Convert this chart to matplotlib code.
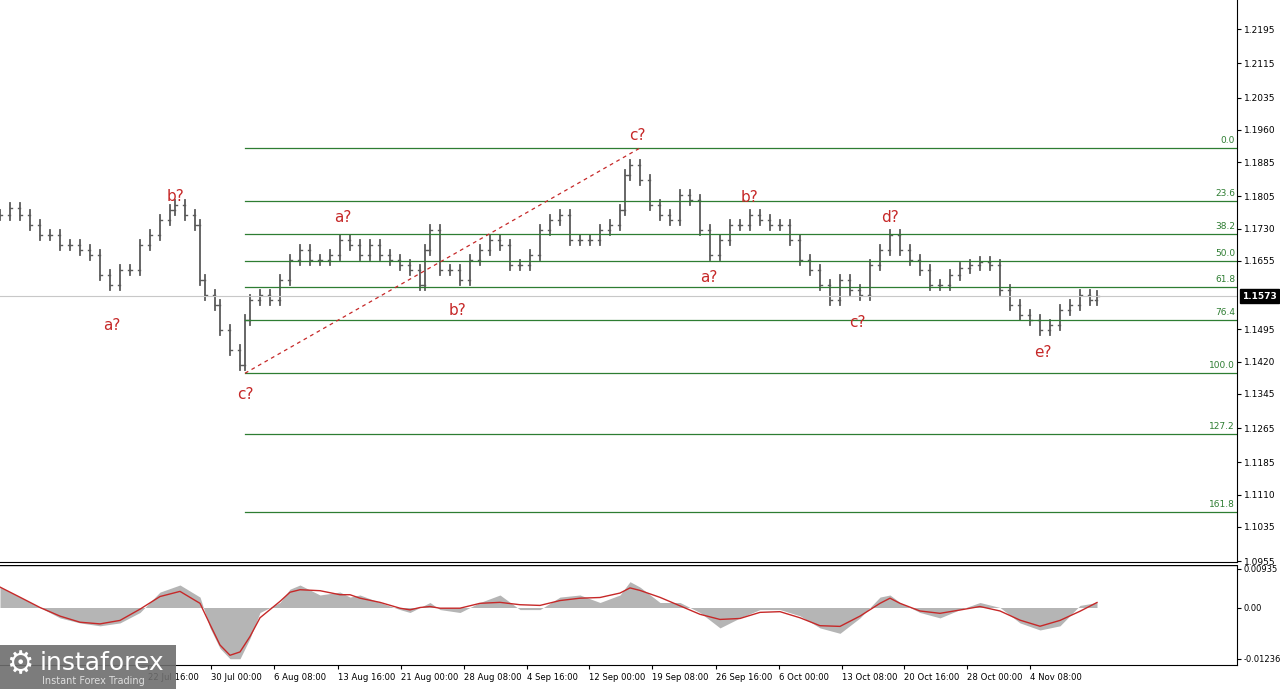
import numpy as np
import matplotlib.pyplot as plt
from matplotlib.patches import Rectangle

# bar times (chart x units) and closes
xs = [0, 10, 20, 30, 40, 50, 60, 70, 80, 90, 100, 110, 120, 130, 140, 150, 160, 170, 175, 185,
      195, 200, 205, 215, 220, 230, 240, 245, 250, 260, 270, 280, 290, 300, 310, 320, 330, 340, 350, 360,
      370, 380, 390, 400, 410, 420, 425, 430, 440, 450, 460, 470, 480, 490, 500, 510, 520, 530, 540, 550,
      560, 570, 580, 590, 600, 610, 620, 625, 630, 640, 650, 660, 670, 680, 690, 700, 710, 720, 730, 740,
      750, 760, 770, 780, 790, 800, 810, 820, 830, 840, 850, 860, 870, 880, 890, 900, 910, 920, 930, 940,
      950, 960, 970, 980, 990, 1000, 1010, 1020, 1030, 1040, 1050, 1060, 1070, 1080, 1090, 1097]
closes = [1.1762, 1.1778, 1.1762, 1.1738, 1.1715, 1.1715, 1.1692, 1.1692, 1.1680, 1.1668, 1.1622, 1.1598,
          1.1633, 1.1633, 1.1692, 1.1715, 1.1750, 1.1773, 1.1785, 1.1762, 1.1738, 1.1610, 1.1575, 1.1552,
          1.1493, 1.1447, 1.1412, 1.1517, 1.1563, 1.1575, 1.1563, 1.1610, 1.1657, 1.1680, 1.1657, 1.1657,
          1.1668, 1.1703, 1.1692, 1.1668, 1.1692, 1.1668, 1.1657, 1.1645, 1.1633, 1.1598, 1.1680, 1.1727,
          1.1633, 1.1633, 1.1610, 1.1657, 1.1680, 1.1703, 1.1692, 1.1645, 1.1645, 1.1668, 1.1727, 1.1750,
          1.1762, 1.1703, 1.1703, 1.1703, 1.1727, 1.1738, 1.1773, 1.1855, 1.1878, 1.1843, 1.1785, 1.1762,
          1.1750, 1.1808, 1.1797, 1.1727, 1.1668, 1.1703, 1.1738, 1.1738, 1.1762, 1.1750, 1.1738, 1.1738,
          1.1703, 1.1657, 1.1633, 1.1598, 1.1563, 1.1610, 1.1587, 1.1575, 1.1645, 1.1680, 1.1715, 1.1680,
          1.1657, 1.1633, 1.1598, 1.1598, 1.1622, 1.1638, 1.1645, 1.1652, 1.1645, 1.1587, 1.1552, 1.1528,
          1.1517, 1.1493, 1.1505, 1.1540, 1.1552, 1.1575, 1.1563, 1.1573]

osc_x = [0, 20, 40, 60, 80, 100, 120, 140, 160, 180, 200, 210, 220, 230, 240, 250, 260, 280, 290, 300,
         320, 340, 350, 360, 380, 400, 410, 420, 430, 440, 460, 480, 500, 520, 540, 560, 580, 600, 620, 630,
         640, 660, 680, 700, 720, 740, 760, 780, 800, 820, 840, 860, 880, 890, 900, 920, 940, 960, 980, 1000,
         1020, 1040, 1060, 1080, 1097]
osc = [0.0049, 0.0025, 0.0000, -0.0025, -0.0037, -0.0044, -0.0037, -0.0012, 0.0037, 0.0054, 0.0025,
       -0.0049, -0.0098, -0.0123, -0.0123, -0.0074, -0.0012, 0.0012, 0.0044, 0.0054, 0.0030, 0.0037,
       0.0025, 0.0030, 0.0012, -0.0005, -0.0012, 0.0000, 0.0012, -0.0005, -0.0012, 0.0012, 0.0030,
       -0.0005, -0.0005, 0.0025, 0.0030, 0.0012, 0.0030, 0.0062, 0.0049, 0.0012, 0.0012, -0.0012,
       -0.0049, -0.0025, -0.0005, -0.0005, -0.0020, -0.0049, -0.0062, -0.0025, 0.0025, 0.0030, 0.0012,
       -0.0012, -0.0025, -0.0005, 0.0012, 0.0000, -0.0037, -0.0054, -0.0044, 0.0005, 0.0012]

fib_levels = [0.0, 23.6, 38.2, 50.0, 61.8, 76.4, 100.0, 127.2, 161.8]
fib_top, fib_bottom = 1.1918, 1.1393
price_ticks = [1.2195, 1.2115, 1.2035, 1.1960, 1.1885, 1.1805, 1.1730, 1.1655, 1.1495,
               1.1420, 1.1345, 1.1265, 1.1185, 1.1110, 1.1035, 1.0955]
date_labels = ['22 Jul 16:00', '30 Jul 00:00', '6 Aug 08:00', '13 Aug 16:00', '21 Aug 00:00',
               '28 Aug 08:00', '4 Sep 16:00', '12 Sep 00:00', '19 Sep 08:00', '26 Sep 16:00',
               '6 Oct 00:00', '13 Oct 08:00', '20 Oct 16:00', '28 Oct 00:00', '4 Nov 08:00']
date_pos = [148, 211, 274, 338, 401, 464, 527, 589, 652, 716, 779, 842, 904, 967, 1030]
waves = [('a?', 112, 1.1505), ('b?', 175, 1.1805), ('c?', 245, 1.1343), ('a?', 343, 1.1757),
         ('b?', 457, 1.1540), ('c?', 637, 1.1948), ('a?', 709, 1.1615), ('b?', 750, 1.1803),
         ('c?', 857, 1.1512), ('d?', 890, 1.1757), ('e?', 1043, 1.1441)]
last_price = 1.1573

plt.rcParams['font.family'] = ['DejaVu Sans']
fig = plt.figure(figsize=(12.8, 6.89), dpi=100)
W, H = 1280, 689
ax = fig.add_axes([0, 1 - 562 / H, 1237 / W, 562 / H])
ax2 = fig.add_axes([0, 1 - 665 / H, 1237 / W, 100 / H])
green = '#2e7d32'
red = '#c62828'
bar_c = '#5a5a5a'

# OHLC bars
for i, (x, c) in enumerate(zip(xs, closes)):
    o = closes[i - 1] if i > 0 else c
    lo, hi = min(o, c) - 0.0012, max(o, c) + 0.0012
    ax.plot([x, x], [lo, hi], color=bar_c, lw=1.3)
    ax.plot([x - 2, x], [o, o], color=bar_c, lw=1)
    ax.plot([x, x + 2], [c, c], color=bar_c, lw=1)

ax.axhline(last_price, color='#c8c8c8', lw=0.8)
for lv in fib_levels:
    p = fib_top - (fib_top - fib_bottom) * lv / 100
    ax.plot([245, 1237], [p, p], color=green, lw=0.9)
    ax.text(1235, p + 0.0007, f'{lv:.1f}', color=green, fontsize=6.5, ha='right', va='bottom')
ax.plot([245, 640], [fib_bottom, fib_top], color=red, lw=0.9, ls=(0, (3, 3)))
for t, x, y in waves:
    ax.text(x, y, t, color=red, fontsize=11, ha='center', va='center')

ax.set_xlim(0, 1237)
ax.set_ylim(1.0953, 1.2263)
ax.yaxis.tick_right()
ax.set_yticks(price_ticks)
ax.set_yticklabels([f'{v:.4f}' for v in price_ticks], fontsize=6.5)
ax.tick_params(axis='y', length=3, pad=2)
ax.set_xticks([])
ax.text(1.004, last_price, f'{last_price:.4f}', transform=ax.get_yaxis_transform(), fontsize=6.5,
        color='white', fontweight='bold', va='center', ha='left',
        bbox=dict(boxstyle='square,pad=0.25', fc='black', ec='black'))
for s in ['top', 'left']:
    ax.spines[s].set_visible(False)

# oscillator
ax2.fill_between(osc_x, osc, 0, color='#b5b5b5', lw=0)
sig = np.convolve(osc, np.ones(3) / 3, mode='same')
sig[0], sig[-1] = osc[0], osc[-1]
ax2.plot(osc_x, sig, color=red, lw=1)
ax2.set_xlim(0, 1237)
ax2.set_ylim(-0.0138, 0.0102)
ax2.yaxis.tick_right()
ax2.set_yticks([0.00935, 0.0, -0.01236])
ax2.set_yticklabels(['0.00935', '0.00', '-0.01236'], fontsize=6)
ax2.tick_params(axis='y', length=3, pad=2)
ax2.set_xticks(date_pos)
ax2.set_xticklabels(date_labels, fontsize=6.1, ha='left')
ax2.tick_params(axis='x', length=3, pad=3)
for s in ['top', 'left']:
    ax2.spines[s].set_visible(False)
ax2.axhline(0.0102, color='black', lw=1)

# watermark
fig.patches.append(Rectangle((0, 0), 176 / W, 44 / H, transform=fig.transFigure,
                             fc='#6e6e6e', ec='none', alpha=0.9, zorder=10))
fig.text(40 / W, 26 / H, 'instaforex', color='white', fontsize=18, va='center', zorder=11)
fig.text(42 / W, 8 / H, 'Instant Forex Trading', color='#dddddd', fontsize=7, va='center', zorder=11)
fig.text(20 / W, 24 / H, '\u2699', color='white', fontsize=22, va='center', ha='center', zorder=11)

fig.savefig('out.png', dpi=100)
